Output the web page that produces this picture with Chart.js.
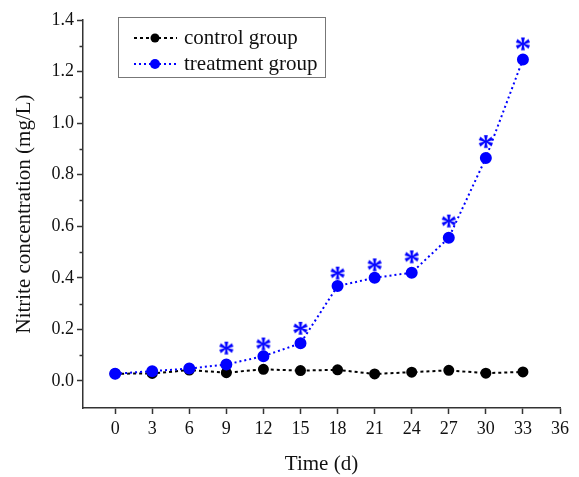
<!DOCTYPE html>
<html><head><meta charset="utf-8">
<script src="https://cdn.jsdelivr.net/npm/chart.js@4.4.1/dist/chart.umd.min.js"></script>
<style>html,body{margin:0;padding:0;background:#fff}#wrap{width:579px;height:477px}</style>
</head><body><div id="wrap"><canvas id="c" width="579" height="477"></canvas></div>
<script>
const days = [0, 3, 6, 9, 12, 15, 18, 21, 24, 27, 30, 33];
const control = [0.028, 0.029, 0.042, 0.032, 0.045, 0.040, 0.043, 0.027, 0.034, 0.041, 0.030, 0.035];
const treatment = [0.028, 0.038, 0.048, 0.064, 0.096, 0.146, 0.368, 0.400, 0.420, 0.555, 0.865, 1.247];
const starDays = [9, 12, 15, 18, 21, 24, 27, 30, 33];
const starLevels = [0.129, 0.145, 0.206, 0.420, 0.452, 0.483, 0.622, 0.930, 1.309];
const xTickLabels = [0, 3, 6, 9, 12, 15, 18, 21, 24, 27, 30, 33, 36];
const yTickLabels = [0.0, 0.2, 0.4, 0.6, 0.8, 1.0, 1.2, 1.4];
const seriesNames = ['control group', 'treatment group'];

const FONT = '"Liberation Serif", "Times New Roman", serif';

function makeStar() {
  const c = document.createElement('canvas');
  c.width = 22; c.height = 22;
  const g = c.getContext('2d');
  g.fillStyle = '#0000ff';
  g.font = 'bold 34px ' + FONT;
  const m = g.measureText('*');
  const w = m.actualBoundingBoxLeft + m.actualBoundingBoxRight;
  const h = m.actualBoundingBoxAscent + m.actualBoundingBoxDescent;
  g.fillText('*', (22 - w) / 2 + m.actualBoundingBoxLeft, (22 - h) / 2 + m.actualBoundingBoxAscent);
  return c;
}
const starImg = makeStar();

const pts = (xs, ys) => xs.map((x, i) => ({x: x, y: ys[i]}));

const minorTicks = {
  id: 'minorTicks',
  afterDraw(chart) {
    const y = chart.scales.y, ctx = chart.ctx, left = chart.chartArea.left;
    ctx.save();
    ctx.strokeStyle = '#333'; ctx.lineWidth = 1.5;
    for (let v = 0.1; v < 1.4; v += 0.2) {
      const py = Math.round(y.getPixelForValue(v)) + 0.5;
      ctx.beginPath(); ctx.moveTo(left - 3.5, py); ctx.lineTo(left, py); ctx.stroke();
    }
    ctx.restore();
  }
};

const boxLegend = {
  id: 'boxLegend',
  afterDraw(chart) {
    const ctx = chart.ctx;
    const x0 = 118, y0 = 17, w = 207, h = 60;
    ctx.save();
    ctx.fillStyle = '#fff';
    ctx.fillRect(x0, y0, w, h);
    ctx.strokeStyle = '#777'; ctx.lineWidth = 1;
    ctx.strokeRect(x0 + 0.5, y0 + 0.5, w, h);
    const ds = chart.data.datasets;
    [0, 1].forEach((i, k) => {
      const cy = 38 + k * 26;
      const d = ds[i];
      ctx.strokeStyle = d.borderColor; ctx.lineWidth = 2;
      ctx.setLineDash(d.borderDash);
      ctx.beginPath(); ctx.moveTo(134, cy); ctx.lineTo(177, cy); ctx.stroke();
      ctx.setLineDash([]);
      ctx.fillStyle = d.pointBackgroundColor;
      ctx.beginPath(); ctx.arc(155, cy, d.pointRadius, 0, Math.PI * 2); ctx.fill();
      ctx.fillStyle = '#111';
      ctx.font = '21px ' + FONT;
      ctx.textBaseline = 'middle';
      ctx.fillText(seriesNames[i], 184, cy);
    });
    ctx.restore();
  }
};

new Chart(document.getElementById('c'), {
  type: 'scatter',
  data: {
    datasets: [
      {label: seriesNames[0], data: pts(days, control), showLine: true, borderColor: '#000', backgroundColor: '#000',
       pointBackgroundColor: '#000', pointBorderColor: '#000', borderWidth: 2, borderDash: [3, 3], pointRadius: 4.5, pointHoverRadius: 4.5, order: 2},
      {label: seriesNames[1], data: pts(days, treatment), showLine: true, borderColor: '#0000ff', backgroundColor: '#0000ff',
       pointBackgroundColor: '#0000ff', pointBorderColor: '#0000ff', borderWidth: 2, borderDash: [2, 3], pointRadius: 5, pointHoverRadius: 5, order: 1},
      {label: 'significance', data: pts(starDays, starLevels), showLine: false, pointStyle: starImg, pointRadius: 8, order: 0}
    ]
  },
  options: {
    responsive: false, animation: false, devicePixelRatio: 1,
    layout: {padding: {top: 20, right: 19, left: 0, bottom: 0}},
    plugins: {legend: {display: false}, tooltip: {enabled: false}},
    scales: {
      x: {
        type: 'linear', min: -2.6, max: 36,
        afterBuildTicks: s => { s.ticks = xTickLabels.map(v => ({value: v})); },
        afterFit: s => { s.height = 69; },
        grid: {drawOnChartArea: false, drawTicks: true, tickLength: 6, tickColor: '#333', tickWidth: 1.5},
        border: {display: true, color: '#333', width: 1.5},
        ticks: {font: {family: FONT, size: 18}, color: '#111', padding: 4, maxRotation: 0, autoSkip: false},
        title: {display: true, text: 'Time (d)', font: {family: FONT, size: 21}, color: '#111', padding: {top: 0, bottom: 0}}
      },
      y: {
        type: 'linear', min: -0.105, max: 1.4,
        afterBuildTicks: s => { s.ticks = yTickLabels.map(v => ({value: v})); },
        afterFit: s => { s.width = 83; },
        grid: {drawOnChartArea: false, drawTicks: true, tickLength: 6, tickColor: '#333', tickWidth: 1.5},
        border: {display: true, color: '#333', width: 1.5},
        ticks: {font: {family: FONT, size: 18}, color: '#111', padding: 3, callback: v => v.toFixed(1)},
        title: {display: true, text: 'Nitrite concentration (mg/L)', font: {family: FONT, size: 21}, color: '#111', padding: {top: 12, bottom: 4}}
      }
    }
  },
  plugins: [minorTicks, boxLegend]
});
</script>
</body></html>
